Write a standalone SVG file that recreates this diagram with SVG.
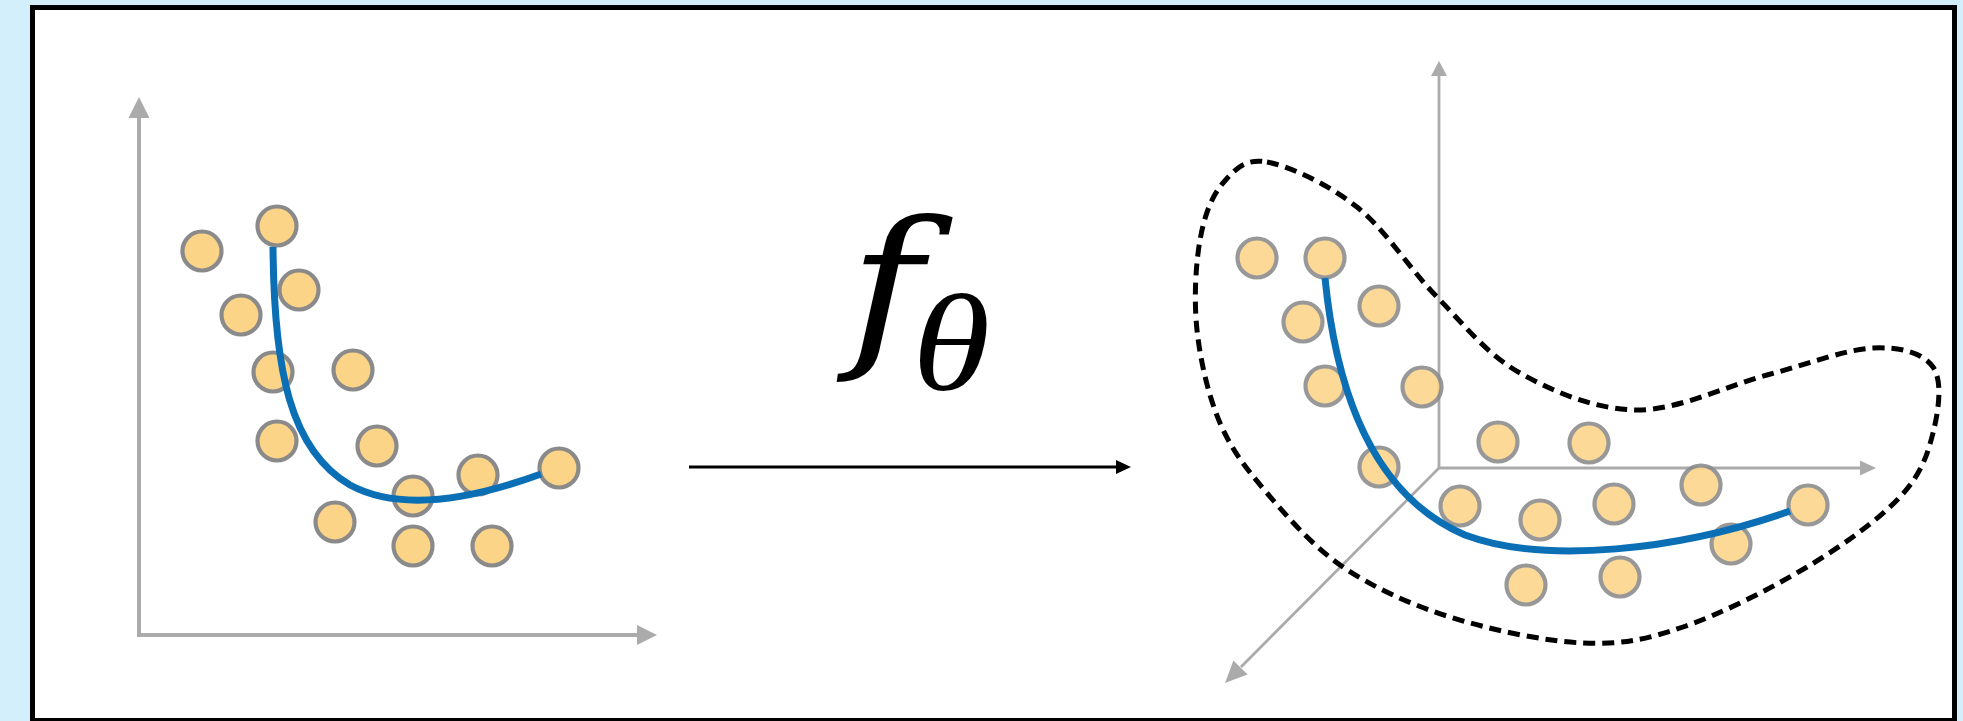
<svg xmlns="http://www.w3.org/2000/svg" width="1963" height="721" viewBox="0 0 1963 721">
  <defs>
    <style>
      .pt { fill: #fcd488; stroke: #8a8a8a; stroke-width: 4.2; }
      .pt3 { fill: #fcd488; stroke: #8a8a8a; stroke-width: 4.2; opacity: 0.88; }
      .axis { stroke: #ababab; stroke-width: 4; fill: none; }
      .axis3 { stroke: #ababab; stroke-width: 2.8; fill: none; }
      .head { fill: #ababab; }
      .fit { stroke: #0b6fb6; stroke-width: 7; fill: none; stroke-linecap: butt; }
      .hull { stroke: #000; stroke-width: 5; fill: none; stroke-dasharray: 12 7; }
      .mathf { font-family: "DejaVu Serif", "Liberation Serif", serif; font-style: italic; fill: #000; }
      .sub { font-family: "Liberation Serif", "DejaVu Serif", serif; font-style: italic; }
    </style>
  </defs>
  <rect x="0" y="0" width="1963" height="721" fill="#d3effc"/>
  <rect x="32.5" y="7.5" width="1922" height="713" fill="#ffffff" stroke="#000" stroke-width="5"/>

  <g id="left-plot">
    <g id="left-axes">
      <line class="axis" x1="139" y1="635" x2="139" y2="116"/>
      <polygon class="head" points="139,97 128.5,118 149.5,118"/>
      <line class="axis" x1="137" y1="635" x2="638" y2="635"/>
      <polygon class="head" points="657,635 637,625 637,645"/>
    </g>
    <g id="left-points">
      <circle id="l1" class="pt" cx="202" cy="251" r="19.5"/>
      <circle id="l2" class="pt" cx="277" cy="226" r="19.5"/>
      <circle id="l3" class="pt" cx="299" cy="290" r="19.5"/>
      <circle id="l4" class="pt" cx="241" cy="315" r="19.5"/>
      <circle id="l5" class="pt" cx="273" cy="372" r="19.5"/>
      <circle id="l6" class="pt" cx="353" cy="370" r="19.5"/>
      <circle id="l7" class="pt" cx="277" cy="441" r="19.5"/>
      <circle id="l8" class="pt" cx="377" cy="446" r="19.5"/>
      <circle id="l9" class="pt" cx="413" cy="496" r="19.5"/>
      <circle id="l10" class="pt" cx="478" cy="475" r="19.5"/>
      <circle id="l11" class="pt" cx="559" cy="468" r="19.5"/>
      <circle id="l12" class="pt" cx="335" cy="522" r="19.5"/>
      <circle id="l13" class="pt" cx="413" cy="546" r="19.5"/>
      <circle id="l14" class="pt" cx="492" cy="546" r="19.5"/>
    </g>
    <path id="left-fit" class="fit" d="M273,247 C274,370 290,450 350,485 C400,512 470,500 541,474"/>
  </g>

  <g id="mapping">
    <text class="mathf" transform="translate(849,346) scale(1.15,1)" x="0" y="0" font-size="174">f<tspan class="sub" x="55" y="44" font-size="138">θ</tspan></text>
  </g>

  <g id="connectors">
    <line x1="689" y1="467" x2="1118" y2="467" stroke="#000" stroke-width="3"/>
    <polygon points="1131,467 1116,460 1116,474" fill="#000"/>
  </g>

  <g id="right-plot">
    <g id="right-axes">
      <line class="axis3" x1="1439" y1="469" x2="1439" y2="74"/>
      <polygon class="head" points="1439,61 1431,76 1447,76"/>
      <line class="axis3" x1="1438" y1="468" x2="1862" y2="468"/>
      <polygon class="head" points="1876,468 1860,460.5 1860,475.5"/>
      <line class="axis3" x1="1439" y1="468" x2="1241" y2="667" stroke-width="3.4"/>
      <polygon class="head" points="1225,683 1247.6,674.5 1233.4,660.4"/>
    </g>
    <g id="right-points">
      <circle id="r1" class="pt3" cx="1257" cy="258" r="19.5"/>
      <circle id="r2" class="pt3" cx="1325" cy="258" r="19.5"/>
      <circle id="r3" class="pt3" cx="1379" cy="306" r="19.5"/>
      <circle id="r4" class="pt3" cx="1303" cy="322" r="19.5"/>
      <circle id="r5" class="pt3" cx="1325" cy="386" r="19.5"/>
      <circle id="r6" class="pt3" cx="1422" cy="387" r="19.5"/>
      <circle id="r7" class="pt3" cx="1379" cy="467" r="19.5"/>
      <circle id="r8" class="pt3" cx="1498" cy="442" r="19.5"/>
      <circle id="r9" class="pt3" cx="1589" cy="443" r="19.5"/>
      <circle id="r10" class="pt3" cx="1460" cy="506" r="19.5"/>
      <circle id="r11" class="pt3" cx="1540" cy="520" r="19.5"/>
      <circle id="r12" class="pt3" cx="1614" cy="504" r="19.5"/>
      <circle id="r13" class="pt3" cx="1701" cy="485" r="19.5"/>
      <circle id="r14" class="pt3" cx="1808" cy="505" r="19.5"/>
      <circle id="r15" class="pt3" cx="1731" cy="544" r="19.5"/>
      <circle id="r16" class="pt3" cx="1526" cy="585" r="19.5"/>
      <circle id="r17" class="pt3" cx="1620" cy="577" r="19.5"/>
    </g>
    <path id="right-fit" class="fit" d="M1325,278 C1340,430 1395,505 1465,535 C1545,565 1680,550 1790,511"/>
    <path id="manifold" class="hull" d="M1267,162 C1289.3,166 1328.7,184.5 1357,207 C1385.3,229.5 1409.8,269.3 1437,297 C1464.2,324.7 1486.7,354.2 1520,373 C1553.3,391.8 1595.8,409.7 1637,410 C1678.2,410.3 1727.7,385.3 1767,375 C1806.3,364.7 1845.3,349.3 1873,348 C1900.7,346.7 1923,352.8 1933,367 C1943,381.2 1938.5,411.3 1933,433 C1927.5,454.7 1921,474.7 1900,497 C1879,519.3 1843.2,545.3 1807,567 C1770.8,588.7 1720.3,614.3 1683,627 C1645.7,639.7 1621.8,644.7 1583,643 C1544.2,641.3 1490,629.7 1450,617 C1410,604.3 1373.5,587.7 1343,567 C1312.5,546.3 1287.5,517 1267,493 C1246.5,469 1231.7,450.2 1220,423 C1208.3,395.8 1200.3,360.5 1197,330 C1193.7,299.5 1195.7,264.5 1200,240 C1204.3,215.5 1211.8,196 1223,183 C1234.2,170 1244.7,158 1267,162 Z"/>
  </g>
</svg>
